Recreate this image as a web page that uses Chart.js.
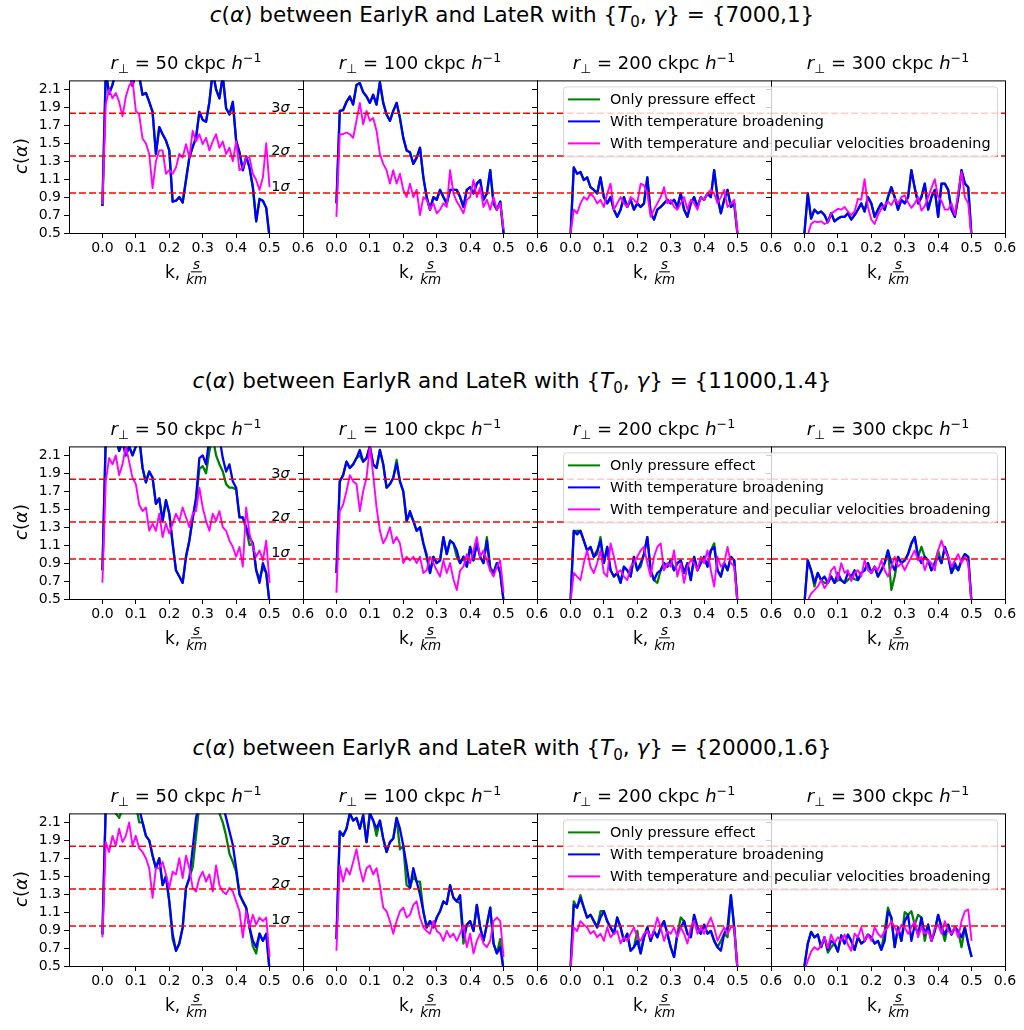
<!DOCTYPE html>
<html>
<head>
<meta charset="utf-8">
<script src="https://cdn.jsdelivr.net/npm/chart.js@4.4.0/dist/chart.umd.min.js"></script>
<style>
  body { margin: 0; background: #fff; width: 1024px; height: 1030px; position: relative; overflow: hidden;
         font-family: "DejaVu Sans", sans-serif; color: #000; }
  canvas { position: absolute; }
  .txt { position: absolute; white-space: nowrap; transform: translate(-50%, -50%); z-index: 10; }
  .suptitle { font-size: 21.5px; }
  .subtitle { font-size: 18px; }
  .ylab { font-size: 18px; transform: translate(-50%, -50%) rotate(-90deg); }
  .xlab { font-size: 17px; display: flex; align-items: center; }
  .frac { display: inline-flex; flex-direction: column; align-items: center; font-size: 13.5px;
          font-style: italic; margin-left: 6px; line-height: 1.05; }
  .frac span:first-child { border-bottom: 1px solid #000; padding: 0 2px; }
  sub, sup { font-size: 70%; line-height: 0; }
</style>
</head>
<body>
<script>
// sampling grid in k (s/km)
const kValues = [0.00,0.01,0.02,0.03,0.04,0.05,0.06,0.07,0.08,0.09,
                 0.10,0.11,0.12,0.13,0.14,0.15,0.16,0.17,0.18,0.19,
                 0.20,0.21,0.22,0.23,0.24,0.25,0.26,0.27,0.28,0.29,
                 0.30,0.31,0.32,0.33,0.34,0.35,0.36,0.37,0.38,0.39,
                 0.40,0.41,0.42,0.43,0.44,0.45,0.46,0.47,0.48,0.49,0.50];
const xTicks = [0.0, 0.1, 0.2, 0.3, 0.4, 0.5, 0.6];
const yTicks = [0.5, 0.7, 0.9, 1.1, 1.3, 1.5, 1.7, 1.9, 2.1];
const sigmaLevels = [0.946, 1.357, 1.834];
const sigmaLabels = ['1σ', '2σ', '3σ'];
const sigmaTextK = 0.505;
const rPerp = [50, 100, 200, 300];
const thermalParams = ['{7000,1}', '{11000,1.4}', '{20000,1.6}'];
const seriesNames = ['Only pressure effect', 'With temperature broadening',
                     'With temperature and peculiar velocities broadening'];
const seriesColors = ['#008000', '#0000ff', '#ff00ff'];

// T0 = 7000, gamma = 1
const temp_7000_50 = [0.80,2.30,2.05,2.15,2.30,2.25,2.30,2.25,2.30,2.14, 2.30,2.25,2.04,2.06,1.96,1.85,1.38,1.68,1.60,1.53, 1.42,0.85,0.86,0.90,0.84,1.09,1.34,1.46,1.56,1.85, 1.76,1.74,1.96,2.30,2.10,2.00,2.25,1.89,1.82,1.96, 1.53,1.40,1.20,1.35,1.23,1.01,0.63,0.88,0.86,0.78, 0.45];
const tempVel_7000_50 = [0.82,1.93,2.10,2.00,2.06,1.96,1.80,2.02,2.14,2.20, 1.86,1.82,1.55,1.50,1.38,1.00,1.30,1.42,1.42,1.16, 1.20,1.16,1.23,1.38,1.34,1.49,1.34,1.64,1.52,1.60, 1.49,1.56,1.42,1.52,1.60,1.45,1.52,1.38,1.45,1.30, 1.52,1.20,1.23,1.34,1.34,1.16,1.09,0.98,1.12,1.50, 1.01];
const temp_7000_100 = [0.83,1.86,1.87,1.96,2.02,1.93,2.15,2.17,2.07,2.02, 1.95,2.04,1.93,2.18,1.95,1.82,1.75,1.86,1.95,1.78, 1.56,1.42,1.40,1.27,1.34,1.45,1.12,0.90,0.76,0.90, 0.87,0.98,0.90,0.83,0.98,0.98,0.98,0.90,0.79,0.98, 1.01,0.94,1.05,1.09,0.87,0.94,1.20,0.83,0.76,0.85, 0.50];
const tempVel_7000_100 = [0.68,1.60,1.60,1.62,1.60,1.56,1.75,1.95,1.71,1.86, 1.75,1.78,1.64,1.38,1.27,1.20,1.05,1.20,1.05,1.16, 0.98,0.90,1.05,0.90,0.98,0.70,0.90,0.87,0.76,0.83, 0.72,0.76,0.83,0.79,1.20,0.94,0.85,0.79,0.72,0.87, 0.90,1.09,0.90,1.01,0.79,0.87,0.76,0.90,0.76,0.83, 0.54];
const temp_7000_200 = [0.45,1.23,1.16,1.18,1.09,1.12,1.01,0.98,0.94,1.12, 0.90,0.83,0.90,0.76,0.68,0.76,0.90,0.79,0.87,0.76, 0.83,0.79,0.83,1.12,0.72,0.65,0.76,0.79,0.83,0.87, 0.83,0.87,0.79,0.94,0.76,0.68,0.83,0.90,0.79,0.90, 0.87,0.94,0.90,1.20,0.90,0.72,0.87,0.98,0.79,0.83, 0.48];
const tempVel_7000_200 = [0.48,0.76,0.72,0.83,0.90,0.87,0.94,0.90,0.83,0.87, 0.79,0.94,1.05,0.76,0.83,0.90,0.83,0.79,0.90,0.87, 0.83,1.05,1.03,0.94,0.68,0.76,0.83,0.90,1.01,0.83, 0.87,0.79,0.76,0.83,0.90,0.76,0.87,0.83,0.76,0.90, 0.87,0.94,0.98,0.94,0.83,0.90,0.98,0.79,0.83,0.87, 0.48];
const temp_7000_300 = [0.50,0.94,0.66,0.76,0.72,0.74,0.70,0.62,0.72,0.63, 0.66,0.68,0.68,0.72,0.65,0.70,0.76,0.83,0.74,0.90, 0.83,0.68,0.76,0.83,0.76,0.90,1.01,0.90,0.76,0.87, 0.83,0.90,1.20,1.00,0.83,0.90,1.05,0.76,0.90,0.98, 0.68,1.05,1.05,0.98,0.76,0.68,0.90,1.20,1.05,1.01, 0.45];
const tempVel_7000_300 = [0.45,0.48,0.60,0.63,0.62,0.63,0.60,0.62,0.72,0.74, 0.77,0.76,0.79,0.74,0.70,0.74,0.88,0.87,1.10,0.79, 0.65,0.60,0.70,0.77,0.81,0.85,0.81,0.88,0.83,0.90, 0.92,0.84,0.78,0.83,0.90,0.75,0.80,0.90,1.00,1.10, 0.90,0.86,0.76,0.76,0.83,0.70,0.95,1.18,0.90,0.83, 0.45];
// pressure-only curves coincide with the thermal ones for this model
const onlyP_7000_50 = temp_7000_50;
const onlyP_7000_100 = temp_7000_100;
const onlyP_7000_200 = temp_7000_200;
const onlyP_7000_300 = temp_7000_300;

// T0 = 11000, gamma = 1.4
const onlyP_11000_50 = [0.82,2.30,2.30,2.25,2.30,2.15,2.25,2.10,2.20,2.10, 2.20,2.30,1.96,1.80,1.92,1.85,1.56,1.62,1.37,1.60, 1.45,1.12,0.82,0.75,0.68,0.97,1.15,1.40,1.60,1.95, 1.98,1.90,2.15,2.30,2.10,2.00,1.92,1.78,1.74,1.74, 1.72,1.41,1.41,1.28,1.10,1.12,0.82,0.72,0.85,0.79, 0.45];
const temp_11000_50 = [0.82,2.30,2.30,2.25,2.30,2.15,2.25,2.10,2.20,2.10, 2.20,2.30,1.96,1.80,1.92,1.85,1.56,1.62,1.37,1.60, 1.45,1.12,0.82,0.75,0.68,0.97,1.15,1.40,1.63,2.07, 2.10,2.00,2.30,2.30,2.25,2.30,2.07,1.92,2.00,1.81, 1.74,1.41,1.41,1.30,1.19,1.12,0.82,0.68,0.90,0.79, 0.45];
const tempVel_11000_50 = [0.68,1.81,2.07,2.00,2.10,1.88,2.00,2.20,2.03,1.85, 1.78,1.55,1.48,1.52,1.26,1.34,1.26,1.45,1.19,1.34, 1.23,1.34,1.45,1.37,1.52,1.41,1.30,1.45,1.48,1.74, 1.52,1.37,1.26,1.45,1.37,1.48,1.30,1.26,1.15,1.08, 0.97,1.08,0.86,1.52,1.23,1.08,0.97,1.04,0.93,1.15, 0.68];
const onlyP_11000_100 = [0.79,1.81,1.88,2.03,1.96,2.00,2.07,2.10,2.03,2.07, 2.20,2.00,1.96,2.16,2.00,1.74,1.78,1.85,2.05,1.81, 1.70,1.37,1.45,1.37,1.26,1.30,1.12,1.00,0.79,0.97, 0.90,0.93,1.19,1.00,1.15,1.12,0.97,0.90,0.97,0.86, 1.08,0.93,1.12,0.97,0.90,1.19,0.86,0.79,0.90,0.79, 0.48];
const temp_11000_100 = [0.79,1.81,1.88,2.03,1.96,2.00,2.07,2.16,2.03,2.07, 2.20,2.00,1.96,2.16,2.00,1.74,1.78,1.85,2.01,1.81, 1.70,1.37,1.48,1.37,1.26,1.30,1.12,0.97,0.79,0.97, 0.90,0.93,1.19,1.00,1.15,1.12,1.04,0.90,0.97,0.86, 1.08,0.93,1.12,0.97,0.90,1.15,0.82,0.79,0.90,0.79, 0.48];
const tempVel_11000_100 = [0.57,1.48,1.55,1.70,1.88,1.81,1.78,1.48,1.70,1.85, 2.20,1.88,1.52,1.26,1.12,1.19,1.30,1.12,1.19,1.12, 0.90,0.97,0.93,0.97,0.90,0.97,0.79,0.82,0.97,0.90, 0.82,0.75,0.93,0.79,0.90,0.72,0.60,0.82,0.86,1.00, 0.90,1.04,1.19,0.97,1.04,0.93,0.82,0.75,0.86,0.93, 0.57];
const onlyP_11000_200 = [0.45,1.26,1.26,1.26,1.15,1.04,1.08,0.97,1.00,1.19, 0.90,1.08,0.82,0.75,0.79,0.68,0.86,0.82,0.75,0.97, 0.82,0.86,1.00,1.19,0.82,0.71,0.68,0.82,0.90,0.86, 0.93,0.82,0.90,0.93,0.79,0.90,0.71,0.97,0.82,0.90, 0.97,0.86,1.04,1.12,0.82,0.75,0.90,0.82,0.97,0.93, 0.45];
const temp_11000_200 = [0.45,1.26,1.22,1.26,1.15,1.04,1.08,0.97,1.04,1.15, 0.90,1.08,0.82,0.75,0.79,0.68,0.86,0.82,0.75,0.97, 0.82,0.90,1.00,1.19,0.82,0.71,0.79,0.82,0.90,0.86, 0.93,0.82,0.90,0.93,0.79,0.90,0.71,0.97,0.82,0.90, 0.97,0.86,1.04,1.08,0.82,0.75,0.90,0.82,0.97,0.93, 0.45];
const tempVel_11000_200 = [0.45,0.79,0.75,0.71,0.90,1.04,0.86,0.79,0.90,1.04, 0.79,0.75,1.12,0.97,0.79,0.82,0.75,0.71,0.86,0.90, 0.97,1.04,1.08,0.90,0.75,0.97,1.08,1.12,0.82,0.90, 0.86,1.04,0.75,0.90,0.68,0.86,0.93,0.90,0.82,0.97, 0.90,1.04,0.82,0.64,0.97,0.86,0.90,1.08,0.90,0.86, 0.45];
const onlyP_11000_300 = [0.45,0.93,0.82,0.64,0.79,0.71,0.68,0.68,0.75,0.68, 0.71,0.71,0.68,0.71,0.75,0.72,0.71,0.79,0.82,0.90, 0.79,0.86,0.75,0.82,0.90,1.04,0.60,0.75,0.97,0.90, 0.93,1.00,1.12,1.19,0.97,1.08,0.97,0.93,0.82,0.90, 1.04,0.90,1.08,0.97,0.79,0.86,0.82,0.93,1.00,0.97, 0.45];
const temp_11000_300 = [0.45,0.93,0.82,0.68,0.79,0.71,0.75,0.68,0.75,0.68, 0.79,0.71,0.68,0.79,0.75,0.82,0.71,0.79,0.82,0.90, 0.79,0.86,0.75,0.82,0.90,1.04,0.90,0.82,0.97,0.90, 0.93,1.00,1.12,1.19,0.97,0.90,0.97,0.93,0.82,0.90, 0.97,0.90,1.08,0.97,0.79,0.90,0.82,0.93,1.00,0.97, 0.45];
const tempVel_11000_300 = [0.45,0.48,0.56,0.60,0.64,0.71,0.62,0.68,0.82,0.86, 0.72,0.90,0.79,0.82,0.70,0.79,0.82,0.75,0.93,0.82, 0.79,0.86,0.82,0.93,0.82,0.75,0.86,0.97,0.86,0.90, 0.82,0.90,0.97,1.04,0.93,0.97,0.82,0.93,0.90,0.82, 1.04,1.15,1.04,0.97,0.86,0.93,1.00,0.90,0.97,0.90, 0.45];

// T0 = 20000, gamma = 1.6
const onlyP_20000_50 = [0.85,2.30,2.30,2.25,2.20,2.15,2.25,2.30,2.30,2.30, 2.30,2.10,2.10,1.95,1.90,1.73,1.59,1.70,1.40,1.50, 1.22,0.80,0.67,0.75,0.93,1.37,1.48,1.60,1.95,2.30, 2.30,2.30,2.30,2.30,2.30,2.20,2.10,1.95,1.75,1.66, 1.55,1.30,1.22,1.15,0.93,0.72,0.64,0.86,0.78,0.86, 0.45];
const temp_20000_50 = [0.85,2.30,2.30,2.25,2.30,2.30,2.25,2.30,2.30,2.30, 2.30,2.25,2.10,1.95,1.90,1.73,1.59,1.70,1.40,1.50, 1.22,0.86,0.67,0.75,0.93,1.37,1.48,1.81,2.15,2.30, 2.30,2.30,2.30,2.30,2.30,2.30,2.30,2.15,2.00,1.85, 1.59,1.30,1.22,1.15,0.93,0.78,0.71,0.86,0.78,0.86, 0.45];
const tempVel_20000_50 = [0.82,1.88,1.77,1.95,1.84,2.03,1.88,1.95,2.10,1.84, 1.95,1.81,1.77,1.70,1.59,1.26,1.59,1.59,1.66,1.52, 1.37,1.55,1.52,1.70,1.48,1.73,1.59,1.37,1.33,1.48, 1.55,1.44,1.52,1.33,1.62,1.40,1.33,1.30,1.37,1.33, 1.22,1.11,0.82,1.11,0.93,1.07,0.96,1.04,1.00,1.04, 0.60];
const onlyP_20000_100 = [0.80,2.00,1.95,2.03,2.20,2.12,2.15,2.03,2.18,1.88, 2.20,2.12,1.95,2.12,1.92,1.77,1.88,1.92,2.15,1.80, 1.84,1.40,1.37,1.50,1.44,1.44,1.11,0.93,1.00,0.93, 1.04,1.11,1.22,1.19,1.40,1.26,1.22,1.20,0.75,0.96, 1.00,0.89,1.18,0.93,0.78,0.96,1.15,0.75,0.64,0.80, 0.45];
const temp_20000_100 = [0.80,2.00,1.95,2.03,2.20,2.12,2.15,2.03,2.18,1.88, 2.20,2.12,2.03,2.12,1.92,1.77,1.88,1.92,2.15,2.03, 1.84,1.62,1.37,1.59,1.44,1.30,1.11,0.93,1.00,0.93, 1.04,1.11,1.22,1.19,1.40,1.26,1.22,1.29,0.82,0.96, 1.00,0.89,1.18,0.93,0.78,0.96,1.15,0.75,0.64,0.71, 0.45];
const tempVel_20000_100 = [0.67,1.62,1.44,1.59,1.52,1.66,1.80,1.59,1.44,1.59, 1.62,1.52,1.59,1.40,1.15,1.11,1.00,0.86,1.00,1.11, 1.15,1.04,1.07,1.18,1.22,1.04,0.93,0.89,0.86,1.00, 0.89,0.86,0.78,0.89,0.82,0.86,0.78,0.86,0.96,0.71, 0.86,0.64,0.78,0.86,0.75,0.71,0.78,1.00,1.04,1.00, 0.60];
const onlyP_20000_200 = [0.45,1.22,1.15,1.29,1.15,1.04,1.07,1.00,0.93,1.11, 1.11,1.00,0.93,0.86,1.04,0.93,0.78,0.86,0.67,0.71, 0.89,0.64,0.82,0.93,0.78,0.89,0.82,0.93,1.00,0.86, 0.71,0.60,0.86,1.04,1.00,0.86,0.82,1.07,0.93,0.86, 0.96,0.86,0.89,0.78,0.71,0.78,0.86,0.82,1.29,0.93, 0.45];
const temp_20000_200 = [0.45,1.18,1.15,1.26,1.15,1.04,1.07,1.00,0.93,1.04, 1.11,1.00,0.93,0.86,1.04,0.93,0.78,0.86,0.67,0.71, 0.78,0.64,0.82,0.93,0.78,0.89,0.82,0.93,1.00,0.86, 0.71,0.60,0.86,0.93,1.00,0.86,0.82,1.07,0.93,0.86, 0.96,0.86,0.89,0.78,0.71,0.67,0.86,0.93,1.29,0.93, 0.45];
const tempVel_20000_200 = [0.45,0.93,0.89,1.00,0.96,0.93,0.86,0.89,0.82,0.86, 0.78,0.93,0.82,0.86,0.89,0.75,0.82,0.78,0.86,0.93, 0.82,0.78,0.86,0.89,0.82,0.89,1.04,0.93,0.78,0.89, 0.86,0.93,0.82,0.93,0.86,0.75,0.93,1.00,0.86,0.93, 0.86,0.96,1.04,0.93,0.78,0.86,0.93,0.86,0.93,0.93, 0.45];
const onlyP_20000_300 = [0.50,0.75,0.88,0.82,0.85,0.71,0.82,0.65,0.71,0.75, 0.66,0.84,0.75,0.85,0.78,0.68,0.82,0.75,0.78,0.85, 0.82,0.75,0.78,0.68,0.89,1.15,1.04,0.71,0.93,0.78, 1.10,1.07,1.11,0.96,1.07,1.04,0.78,0.96,0.78,0.89, 1.07,0.93,0.78,0.96,0.85,0.93,0.89,0.71,0.93,0.75, 0.60];
const temp_20000_300 = [0.50,0.75,0.88,0.82,0.85,0.71,0.82,0.68,0.78,0.75, 0.66,0.84,0.75,0.85,0.78,0.68,0.82,0.75,0.78,0.85, 0.82,0.75,0.78,0.68,0.78,1.11,1.04,0.71,0.93,0.78, 1.00,1.07,0.78,0.96,0.85,1.04,0.85,0.96,0.78,0.89, 1.07,0.93,0.85,0.96,0.85,0.93,0.89,0.82,0.93,0.75, 0.60];
const tempVel_20000_300 = [0.45,0.56,0.66,0.71,0.68,0.73,0.82,0.70,0.85,0.76, 0.82,0.78,0.85,0.74,0.67,0.86,0.82,0.93,0.78,0.85, 0.78,0.93,0.86,0.82,0.89,0.93,1.00,0.93,0.86,0.96, 0.93,0.86,0.93,1.00,0.82,0.93,0.86,0.89,0.78,0.93, 0.96,0.86,1.00,0.89,0.86,0.93,0.82,1.00,1.11,1.13, 0.78];

// [row][panel] -> [pressure, temperature, temperature + velocities]
const grid = [
  [[onlyP_7000_50, temp_7000_50, tempVel_7000_50], [onlyP_7000_100, temp_7000_100, tempVel_7000_100],
   [onlyP_7000_200, temp_7000_200, tempVel_7000_200], [onlyP_7000_300, temp_7000_300, tempVel_7000_300]],
  [[onlyP_11000_50, temp_11000_50, tempVel_11000_50], [onlyP_11000_100, temp_11000_100, tempVel_11000_100],
   [onlyP_11000_200, temp_11000_200, tempVel_11000_200], [onlyP_11000_300, temp_11000_300, tempVel_11000_300]],
  [[onlyP_20000_50, temp_20000_50, tempVel_20000_50], [onlyP_20000_100, temp_20000_100, tempVel_20000_100],
   [onlyP_20000_200, temp_20000_200, tempVel_20000_200], [onlyP_20000_300, temp_20000_300, tempVel_20000_300]]
];

// page layout of the axes boxes
const panelLeft = [69, 303, 537, 771];
const rowTop = [79, 445, 812];
const axW = 234, axH = 154;
const padL = 60, padT = 10, padR = 12, padB = 30;
const tickFont = { family: 'DejaVu Sans', size: 14 };

// sigma levels, frame, sigma tags and the shared legend
const panelDecor = {
  id: 'panelDecor',
  afterDatasetsDraw(chart, args, opts) {
    const { ctx, chartArea: a } = chart;
    const xs = chart.scales.x, ys = chart.scales.y;
    ctx.save();
    ctx.strokeStyle = '#ff0000';
    ctx.lineWidth = 1.4;
    ctx.setLineDash([7, 3]);
    sigmaLevels.forEach(lv => {
      const py = ys.getPixelForValue(lv);
      ctx.beginPath(); ctx.moveTo(a.left, py); ctx.lineTo(a.right, py); ctx.stroke();
    });
    ctx.setLineDash([]);
    ctx.strokeStyle = '#000';
    ctx.lineWidth = 1;
    ctx.strokeRect(a.left + 0.5, a.top + 0.5, a.right - a.left, a.bottom - a.top);

    if (opts.sigmaText) {
      ctx.fillStyle = '#000';
      ctx.textBaseline = 'alphabetic';
      sigmaLevels.forEach((lv, i) => {
        const px = xs.getPixelForValue(sigmaTextK), py = ys.getPixelForValue(lv) - 1.5;
        const num = sigmaLabels[i].slice(0, -1);
        ctx.font = '14.5px "DejaVu Sans"';
        ctx.fillText(num, px, py);
        const w = ctx.measureText(num).width;
        ctx.font = 'italic 14.5px "DejaVu Sans"';
        ctx.fillText('σ', px + w, py);
      });
    }

    if (opts.legend) {
      const bx = a.left + 26, by = a.top + 6, bw = 434, bh = 70;
      ctx.beginPath();
      ctx.roundRect(bx + 0.5, by + 0.5, bw, bh, 3);
      ctx.fillStyle = 'rgba(255,255,255,0.8)';
      ctx.fill();
      ctx.strokeStyle = 'rgba(204,204,204,0.8)';
      ctx.stroke();
      ctx.font = '14.4px "DejaVu Sans"';
      ctx.textBaseline = 'middle';
      chart.data.datasets.forEach((ds, i) => {
        const cy = by + 13 + 22 * i;
        ctx.strokeStyle = ds.borderColor;
        ctx.lineWidth = 2;
        ctx.beginPath(); ctx.moveTo(bx + 5, cy); ctx.lineTo(bx + 37, cy); ctx.stroke();
        ctx.fillStyle = '#000';
        ctx.fillText(ds.label, bx + 47, cy + 1);
      });
    }
    ctx.restore();
  }
};

function makePanel(row, col) {
  const legendHost = col === 2;
  const rightPad = legendHost ? 240 : padR;
  const cv = document.createElement('canvas');
  cv.width = padL + axW + rightPad;
  cv.height = padT + axH + padB;
  cv.style.width = cv.width + 'px';
  cv.style.height = cv.height + 'px';
  cv.style.left = (panelLeft[col] - padL) + 'px';
  cv.style.top = (rowTop[row] - padT) + 'px';
  cv.style.zIndex = legendHost ? 5 : 1;
  document.body.appendChild(cv);

  const sets = grid[row][col];
  new Chart(cv, {
    type: 'line',
    data: {
      datasets: sets.map((vals, i) => ({
        label: seriesNames[i],
        data: kValues.map((k, j) => ({ x: k, y: vals[j] })),
        borderColor: seriesColors[i],
        borderWidth: i === 2 ? 1.9 : 2.3,
        pointRadius: 0,
        tension: 0,
        borderJoinStyle: 'round',
        clip: 0,
        order: 3 - i
      }))
    },
    options: {
      responsive: false,
      animation: false,
      devicePixelRatio: 1,
      layout: { padding: { left: 0, top: padT, right: rightPad, bottom: 0 } },
      plugins: {
        legend: { display: false },
        tooltip: { enabled: false },
        panelDecor: { sigmaText: col === 0, legend: legendHost }
      },
      scales: {
        x: {
          type: 'linear', min: -0.1, max: 0.6,
          afterBuildTicks: s => { s.ticks = xTicks.map(v => ({ value: v })); },
          afterFit: s => { s.height = padB; s.paddingLeft = 0; s.paddingRight = 0; },
          grid: { drawOnChartArea: false, drawTicks: true, tickLength: 5, tickColor: '#000' },
          border: { display: false },
          ticks: { font: tickFont, color: '#000', padding: 2,
                   maxRotation: 0, autoSkip: false, callback: v => v.toFixed(1) }
        },
        y: {
          type: 'linear', min: 0.5, max: 2.2,
          afterBuildTicks: s => { s.ticks = yTicks.map(v => ({ value: v })); },
          afterFit: s => { s.width = padL; },
          grid: { drawOnChartArea: false, drawTicks: true, tickLength: 5, tickColor: '#000' },
          border: { display: false },
          ticks: { font: tickFont, color: '#000', padding: 3,
                   autoSkip: false, callback: v => col === 0 ? v.toFixed(1) : '' }
        }
      }
    },
    plugins: [panelDecor]
  });
}

function addText(cls, html, x, y) {
  const d = document.createElement('div');
  d.className = 'txt ' + cls;
  d.innerHTML = html;
  d.style.left = x + 'px';
  d.style.top = y + 'px';
  document.body.appendChild(d);
}

for (let r = 0; r < 3; r++) {
  for (let c = 0; c < 4; c++) makePanel(r, c);
  addText('suptitle', '<i>c</i>(<i>α</i>) between EarlyR and LateR with {<i>T</i><sub>0</sub>, <i>γ</i>} = ' + thermalParams[r],
          512, rowTop[r] - 65);
  addText('ylab', '<i>c</i>(<i>α</i>)', 20, rowTop[r] + axH / 2);
  for (let c = 0; c < 4; c++) {
    const cx = panelLeft[c] + axW / 2;
    addText('subtitle', '<i>r</i><sub>⊥</sub> = ' + rPerp[c] + ' ckpc <i>h</i><sup>−1</sup>', cx, rowTop[r] - 17);
    addText('xlab', 'k,<span class="frac"><span>s</span><span>km</span></span>', cx, rowTop[r] + axH + 39);
  }
}
</script>
</body>
</html>
